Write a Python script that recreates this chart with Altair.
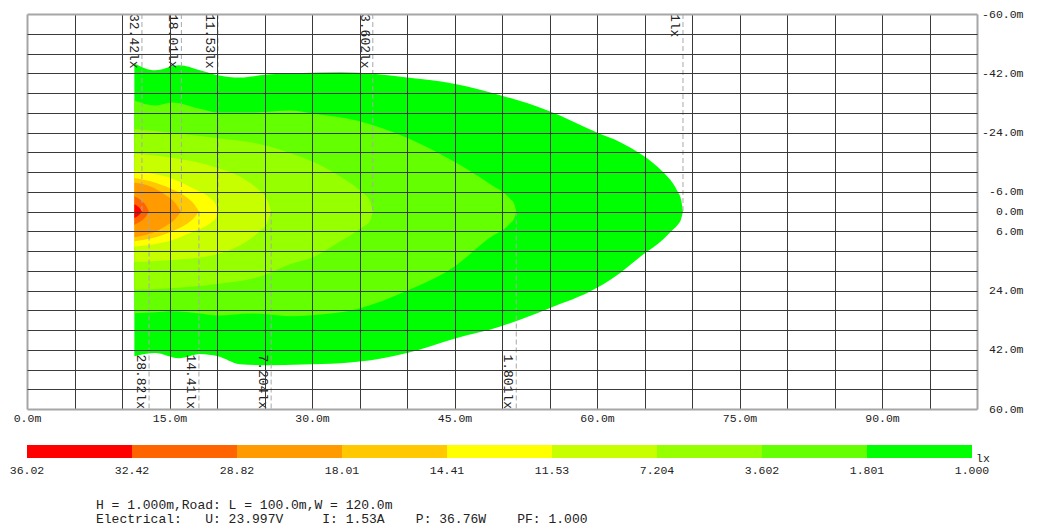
import altair as alt
import pandas as pd

FONT = "Liberation Mono"

# ---- legend / levels -------------------------------------------------------
level_labels = ["36.02", "32.42", "28.82", "18.01", "14.41", "11.53", "7.204", "3.602", "1.801", "1.000"]
band_names = ["32.42-36.02", "28.82-32.42", "18.01-28.82", "14.41-18.01", "11.53-14.41",
              "7.204-11.53", "3.602-7.204", "1.801-3.602", "1.000-1.801"]
band_colors = ["#FF0000", "#FF6400", "#FF9B00", "#FFC800", "#FFFF00",
               "#C8FF00", "#96FF00", "#64FF00", "#00FF00"]

# ---- iso-lux contours (x along road in m, upper edge y, lower edge y in m) --
contour_bands = ["1.000-1.801", "1.801-3.602", "3.602-7.204", "7.204-11.53", "11.53-14.41",
                 "14.41-18.01", "18.01-28.82", "28.82-32.42", "32.42-36.02"]

c1000_x = [11.3, 13.5, 16.0, 18.2, 20.1, 22.4, 25.2, 29.0, 33.0, 37.0, 40.0, 44.8, 50.0, 54.8,
           60.0, 62.5, 64.85, 66.95, 68.0, 68.5, 68.84, 69.05]
c1000_top = [-45.0, -42.9, -44.4, -42.9, -41.4, -40.7, -41.6, -42.1, -42.3, -41.7, -40.7, -38.9, -35.2, -30.7,
             -24.0, -21.0, -17.0, -12.0, -8.5, -6.0, -3.8, 0.0]
c1000_bot = [44.0, 43.0, 44.6, 43.3, 44.0, 46.4, 46.7, 46.5, 46.1, 44.8, 43.0, 38.8, 34.8, 29.6,
             23.2, 18.5, 13.1, 8.5, 5.5, 4.0, 2.4, 0.0]

c1801_x = [11.3, 13.5, 15.3, 18.2, 20.0, 23.8, 27.7, 30.0, 34.8, 40.0, 44.8, 48.7, 50.8, 51.3, 51.5]
c1801_top = [-33.7, -32.2, -33.1, -31.2, -30.1, -30.1, -30.7, -29.8, -27.6, -22.4, -15.4, -8.4, -4.0, -2.2, 0.0]
c1801_bot = [30.9, 30.6, 30.3, 31.0, 31.6, 31.0, 31.8, 31.5, 29.6, 24.1, 17.1, 8.0, 3.8, 2.0, 0.0]

c3602_x = [11.3, 15.1, 20.0, 24.8, 27.7, 30.0, 32.9, 35.2, 36.1, 36.4]
c3602_top = [-25.1, -24.0, -22.3, -20.3, -17.8, -15.3, -10.8, -6.0, -3.2, 0.0]
c3602_bot = [23.8, 23.3, 22.0, 19.5, 16.0, 14.0, 9.2, 5.0, 2.9, 0.0]

c7204_x = [11.3, 15.1, 20.0, 22.5, 24.4, 25.3, 25.7]
c7204_top = [-17.6, -16.4, -13.3, -10.5, -6.5, -3.5, 0.0]
c7204_bot = [15.3, 14.8, 13.0, 10.2, 6.2, 3.3, 0.0]

c1153_x = [11.3, 13.0, 15.1, 17.5, 19.3, 19.9, 20.1]
c1153_top = [-12.2, -11.6, -10.2, -7.0, -4.0, -2.0, 0.0]
c1153_bot = [10.6, 10.1, 8.9, 6.1, 3.5, 1.8, 0.0]

c1441_x = [11.3, 13.0, 15.1, 16.8, 17.6, 18.1]
c1441_top = [-10.2, -9.2, -7.0, -4.3, -2.2, 0.0]
c1441_bot = [9.0, 8.2, 6.2, 3.8, 1.9, 0.0]

c1801b_x = [11.3, 13.0, 14.5, 15.6, 16.2]
c1801b_top = [-8.8, -7.6, -5.2, -2.6, 0.0]
c1801b_bot = [7.8, 6.7, 4.6, 2.3, 0.0]

c2882_x = [11.3, 12.0, 12.5, 12.85]
c2882_top = [-4.6, -3.4, -1.9, 0.0]
c2882_bot = [4.0, 2.9, 1.6, 0.0]

c3242_x = [11.3, 11.8, 12.1]
c3242_top = [-2.2, -1.2, 0.0]
c3242_bot = [2.0, 1.1, 0.0]

contour_x = [c1000_x, c1801_x, c3602_x, c7204_x, c1153_x, c1441_x, c1801b_x, c2882_x, c3242_x]
contour_top = [c1000_top, c1801_top, c3602_top, c7204_top, c1153_top, c1441_top, c1801b_top, c2882_top, c3242_top]
contour_bot = [c1000_bot, c1801_bot, c3602_bot, c7204_bot, c1153_bot, c1441_bot, c1801b_bot, c2882_bot, c3242_bot]

# ---- farthest reach of each contour (dashed markers) ----------------------
tip_labels = ["32.42lx", "28.82lx", "18.01lx", "14.41lx", "11.53lx", "7.204lx", "3.602lx", "1.801lx", "1lx"]
tip_x = [12.1, 12.85, 16.25, 18.1, 20.1, 25.7, 36.4, 51.5, 69.05]
tip_side = ["top", "bottom", "top", "bottom", "top", "bottom", "top", "bottom", "top"]

# ---- axes ------------------------------------------------------------------
x_grid = list(range(0, 101, 5))
y_grid = list(range(-60, 61, 6))
y_label_values = [-60, -42, -24, -6, 0, 6, 24, 42, 60]

info_lines = ["H = 1.000m,Road: L = 100.0m,W = 120.0m",
              "Electrical:   U: 23.997V     I: 1.53A    P: 36.76W    PF: 1.000"]

# ---------------------------------------------------------------------------
xscale = alt.Scale(domain=[0, 100], nice=False, zero=False)
yscale = alt.Scale(domain=[-60, 60], nice=False, zero=False, reverse=True)
color_scale = alt.Scale(domain=band_names, range=band_colors)

edge_x = "datum.value == 0 || datum.value == 100"
edge_y = "datum.value == -60 || datum.value == 60"
xaxis = alt.Axis(
    values=x_grid, title=None, grid=True,
    gridColor={"condition": {"test": edge_x, "value": "#a6a6a6"}, "value": "#3a3a3a"},
    gridWidth={"condition": {"test": edge_x, "value": 2}, "value": 1},
    ticks=False, tickSize=0, domain=False,
    labelExpr="datum.value % 15 == 0 ? format(datum.value, '.1f') + 'm' : ''",
    labelFont=FONT, labelFontSize=11.5, labelColor="#222", labelPadding=3,
    labelFlush=False, labelOverlap=False, zindex=1)
y_list = "[" + ",".join(str(v) for v in y_label_values) + "]"
yaxis = alt.Axis(
    orient="right", values=y_grid, title=None, grid=True,
    gridColor={"condition": {"test": edge_y, "value": "#a6a6a6"}, "value": "#3a3a3a"},
    gridWidth={"condition": {"test": edge_y, "value": 2}, "value": 1},
    ticks=False, tickSize=0, domain=False,
    labelExpr=f"indexof({y_list}, datum.value) >= 0 ? (datum.value < 0 ? '-' : '') + format(abs(datum.value), '.1f') + 'm' : ''",
    labelFont=FONT, labelFontSize=11.5, labelColor="#222", labelPadding=46,
    labelAlign="right", labelBaseline="middle",
    labelFlush=False, labelOverlap=False, zindex=1)

X = alt.X("x:Q", scale=xscale, axis=xaxis)
Y = alt.Y("y:Q", scale=yscale, axis=yaxis, stack=None)

layers = []
for xs, ts, bs, band in zip(contour_x, contour_top, contour_bot, contour_bands):
    df = pd.DataFrame({"x": xs, "y": ts, "y2": bs, "band": band})
    layers.append(
        alt.Chart(df).mark_area(interpolate="monotone", strokeWidth=0, opacity=1).encode(
            x=X, y=Y, y2="y2:Q",
            color=alt.Color("band:N", scale=color_scale, legend=None)))

tips = pd.DataFrame({"x": tip_x, "label": tip_labels, "side": tip_side})
tips["y"] = tips["side"].map({"top": -60, "bottom": 0})
tips["y2"] = tips["side"].map({"top": 0, "bottom": 60})
tips["ylab"] = tips["side"].map({"top": -60, "bottom": 60})

rules = alt.Chart(tips).mark_rule(color="#a8a8a8", strokeDash=[5, 3], strokeWidth=1).encode(
    x=X, y=Y, y2="y2:Q")
top_text = alt.Chart(tips[tips.side == "top"]).mark_text(
    angle=90, align="left", baseline="middle", dy=8, font=FONT, fontSize=13, color="#222").encode(
    x=X, y=alt.Y("ylab:Q", scale=yscale, axis=yaxis), text="label:N")
bot_text = alt.Chart(tips[tips.side == "bottom"]).mark_text(
    angle=90, align="right", baseline="middle", dy=8, font=FONT, fontSize=13, color="#222").encode(
    x=X, y=alt.Y("ylab:Q", scale=yscale, axis=yaxis), text="label:N")

plot = alt.layer(*layers, rules, top_text, bot_text).properties(width=950, height=395)

# ---- colour bar ------------------------------------------------------------
lscale = alt.Scale(domain=[0, 9], nice=False, zero=False)
bands_df = pd.DataFrame({"i": list(range(9)), "i2": list(range(1, 10)), "band": band_names})
bar = alt.Chart(bands_df).mark_rect().encode(
    x=alt.X("i:Q", scale=lscale, axis=None), x2="i2:Q",
    y=alt.value(0), y2=alt.value(13),
    color=alt.Color("band:N", scale=color_scale, legend=None))
lab_df = pd.DataFrame({"i": list(range(10)), "label": level_labels})
bar_labels = alt.Chart(lab_df).mark_text(font=FONT, fontSize=11.5, color="#222", baseline="middle").encode(
    x=alt.X("i:Q", scale=lscale, axis=None), y=alt.value(26), text="label:N")
unit = alt.Chart(pd.DataFrame({"i": [9], "u": ["lx"]})).mark_text(
    font=FONT, fontSize=11.5, color="#222", align="left", baseline="middle", dx=4).encode(
    x=alt.X("i:Q", scale=lscale, axis=None), y=alt.value(14), text="u:N")
info = alt.Chart(pd.DataFrame({"k": [0]})).mark_text(
    font=FONT, fontSize=13, color="#222", align="left", baseline="top", lineHeight=14).encode(
    x=alt.value(69), y=alt.value(54),
    text=alt.value([s.replace(" ", "\u00a0") for s in info_lines]))

legend = alt.layer(bar, bar_labels, unit, info).properties(width=945, height=13)

chart = alt.vconcat(plot, legend, spacing=21).properties(
    padding={"left": 1, "top": 0, "right": 5, "bottom": 0},
    background="white").configure_view(stroke=None)

chart.save("out.html", embed_options={"renderer": "svg", "actions": False})
